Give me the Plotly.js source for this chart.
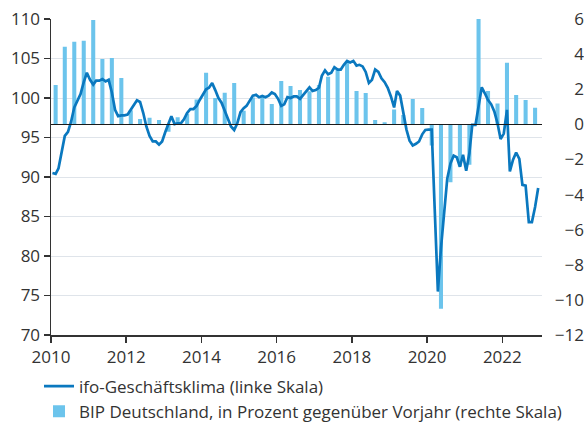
<!DOCTYPE html>
<html><head><meta charset="utf-8">
<script src="https://cdn.plot.ly/plotly-3.0.1.min.js"></script>
<style>html,body{margin:0;padding:0;background:#fff}</style>
</head><body><div id="chart" style="width:584px;height:423px"></div>
<script>
// ifo-Geschäftsklima, monthly (Jan..Dec) per year
const years = [2010,2011,2012,2013,2014,2015,2016,2017,2018,2019,2020,2021,2022];
const ifo2010 = [90.5,90.4,91.1,93.1,95.2,95.7,97.0,98.8,99.6,100.5,102.0,103.2];
const ifo2011 = [102.3,101.7,102.2,102.2,102.4,102.1,102.3,100.7,98.5,97.7,97.8,97.8];
const ifo2012 = [97.9,98.5,99.1,99.7,99.5,98.1,96.4,95.2,94.5,94.5,94.1,94.5];
const ifo2013 = [95.7,96.9,97.7,96.7,96.8,96.8,97.3,98.1,98.6,98.6,99.0,99.75];
const ifo2014 = [100.4,101.1,101.3,101.9,101.0,100.0,99.4,98.4,97.5,96.4,95.95,96.8];
const ifo2015 = [98.2,98.7,99.0,99.7,100.3,100.4,100.1,100.25,100.1,100.3,100.7,100.5];
const ifo2016 = [99.9,99.0,99.2,100.1,100.0,100.2,100.2,99.9,100.4,100.9,101.35,100.9];
const ifo2017 = [101.0,101.3,102.8,103.5,103.0,103.2,103.9,103.6,103.6,104.2,104.7,104.5];
const ifo2018 = [104.7,104.1,104.2,104.0,103.3,101.9,102.3,103.6,103.3,102.5,102.0,101.3];
const ifo2019 = [100.2,98.8,100.9,100.3,97.9,96.0,94.6,94.0,94.2,94.5,95.4,95.95];
const ifo2020 = [96.0,96.0,86.0,75.5,81.0,85.8,89.8,91.7,92.7,92.5,91.3,92.8];
const ifo2021 = [90.8,93.0,96.6,96.6,99.1,101.35,100.6,99.75,99.2,98.3,96.8,94.8];
const ifo2022 = [95.5,98.5,90.7,92.2,93.1,92.3,89.0,88.9,84.3,84.3,86.2,88.6];
const ifoByYear = [ifo2010,ifo2011,ifo2012,ifo2013,ifo2014,ifo2015,ifo2016,ifo2017,ifo2018,ifo2019,ifo2020,ifo2021,ifo2022];
const monthDays = ['01-15','02-15','03-15','04-15','05-15','06-15','07-15','08-15','09-15','10-15','11-15','12-15'];

// BIP Deutschland, Veränderung gegenüber Vorjahr in %, quarterly (Q1..Q4) per year
const bip2010 = [2.24,4.42,4.70,4.76];
const bip2011 = [5.95,3.72,3.78,2.64];
const bip2012 = [0.80,0.30,0.38,0.24];
const bip2013 = [-0.42,0.40,0.60,1.42];
const bip2014 = [2.94,1.50,1.80,2.36];
const bip2015 = [0.78,1.53,1.55,1.16];
const bip2016 = [2.47,2.18,1.95,1.88];
const bip2017 = [2.24,2.71,3.09,3.60];
const bip2018 = [1.90,1.78,0.24,0.12];
const bip2019 = [0.85,0.53,1.44,0.93];
const bip2020 = [-1.20,-10.50,-3.30,-2.40];
const bip2021 = [-2.30,6.00,1.90,1.19];
const bip2022 = [3.51,1.67,1.38,0.95];
const bipByYear = [bip2010,bip2011,bip2012,bip2013,bip2014,bip2015,bip2016,bip2017,bip2018,bip2019,bip2020,bip2021,bip2022];
const quarterDays = ['02-15','05-15','08-15','11-15'];

const legendIfo = 'ifo-Geschäftsklima (linke Skala)';
const legendBip = 'BIP Deutschland, in Prozent gegenüber Vorjahr (rechte Skala)';

const ifoX = [], ifoY = [], bipX = [], bipY = [];
years.forEach((yr, i) => {
  ifoByYear[i].forEach((v, j) => { ifoX.push(yr + '-' + monthDays[j]); ifoY.push(v); });
  bipByYear[i].forEach((v, j) => { bipX.push(yr + '-' + quarterDays[j]); bipY.push(v); });
});

const FONT = '"Open Sans", Lato, sans-serif';
const TXT = '#333333';

const traces = [
  {type:'bar', x:bipX, y:bipY, name:legendBip, yaxis:'y', xaxis:'x',
   marker:{color:'#6cc4ec', line:{width:0}}, width:3.4e9, legendrank:2, hoverinfo:'skip'},
  {type:'scatter', mode:'lines', x:ifoX, y:ifoY, name:legendIfo, yaxis:'y2', xaxis:'x',
   line:{color:'#0a78bf', width:2.7}, legendrank:1, hoverinfo:'skip'}
];

const layout = {
  width:584, height:423,
  margin:{l:51, r:0, t:19, b:88, autoexpand:false},
  paper_bgcolor:'#fff', plot_bgcolor:'#fff',
  font:{family:FONT, size:17, color:TXT},
  showlegend:true,
  legend:{orientation:'v', x:-0.0225, xanchor:'left', y:-0.1065, yanchor:'top',
          font:{family:FONT, size:17, color:TXT}, bgcolor:'rgba(0,0,0,0)', tracegroupgap:0, itemwidth:30},
  xaxis:{type:'date', domain:[0, 0.9206], range:['2010-01-01','2023-01-18'],
         tick0:'2010-01-01', dtick:'M24', tickformat:'%Y',
         showline:true, linecolor:'#333', linewidth:1.5, ticks:'outside', ticklen:6, tickwidth:1.5, tickcolor:'#333',
         showgrid:false, zeroline:false, tickfont:{family:FONT, size:17, color:TXT}},
  yaxis:{range:[-12,6], dtick:2, tick0:0, anchor:'free', position:1, side:'left',
         showline:false, ticks:'', showgrid:false, zeroline:true, zerolinecolor:'#1a1a1a', zerolinewidth:1.5,
         zerolinelayer:'above traces',
         tickfont:{family:FONT, size:17, color:TXT}},
  yaxis2:{range:[70,110], dtick:5, tick0:70, overlaying:'y', side:'left', anchor:'x',
          showline:true, linecolor:'#333', linewidth:1.5, ticks:'outside', ticklen:6, tickwidth:1.5, tickcolor:'#333',
          showgrid:true, gridcolor:'#dfe4ea', gridwidth:1, zeroline:false,
          tickfont:{family:FONT, size:17, color:TXT}}
};

Plotly.newPlot('chart', traces, layout, {staticPlot:true, displayModeBar:false});
</script>
</body></html>
